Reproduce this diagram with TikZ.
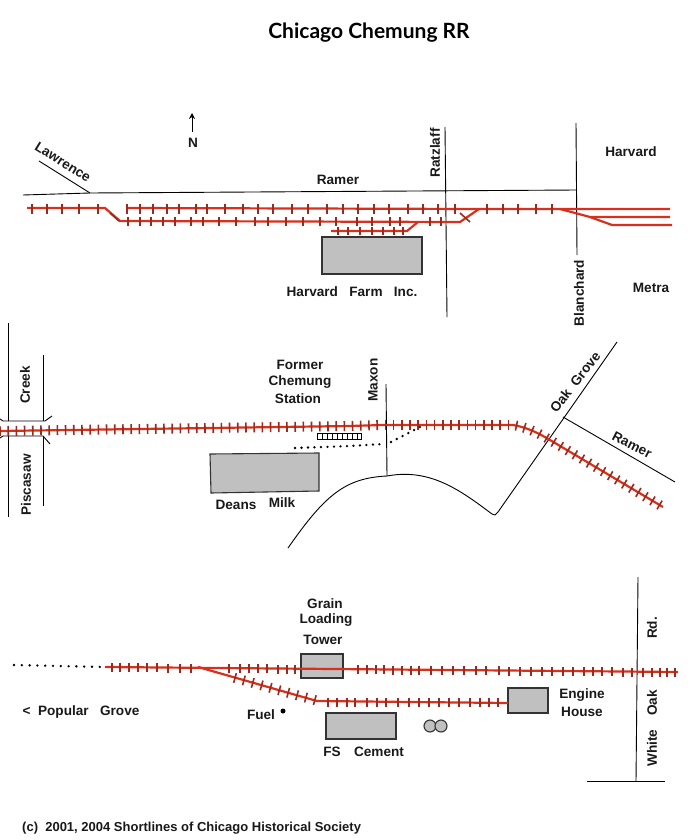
\documentclass[tikz,border=0pt]{standalone}
\usepackage{fontspec}
\setmainfont{Liberation Sans}
\newfontfamily\titlefont{Lato}
\usetikzlibrary{decorations.markings,arrows.meta}
\definecolor{trackred}{HTML}{D8301C}
\definecolor{tiedark}{HTML}{9A2A1C}
\definecolor{shedgray}{HTML}{C0C0C0}
\tikzset{
  road/.style={draw=black,line width=0.9pt},
  track/.style={draw=trackred,line width=2.2pt},
  tie/.style={draw=tiedark,line width=1.6pt},
  shed/.style={draw=black!80,fill=shedgray,line width=1.1pt},
  dotline/.style={draw=black,line width=2.6pt,line cap=round,dash pattern=on 0pt off #1},
  dotline/.default=6.5pt,
  lbl/.style={font=\bfseries\fontsize{13.6}{16}\selectfont,inner sep=0pt,text=black!90},
  ties/.style={postaction={decorate,decoration={markings,
    mark=between positions 0 and 1 step #1 with {\draw[tie] (0,-5pt) -- (0,5pt);}}}}
}
\begin{document}
\begin{tikzpicture}[x=1pt,y=-1pt]
  \useasboundingbox (0,0) rectangle (700,840);

  \node[inner sep=0pt,font=\titlefont\bfseries\fontsize{21}{24}\selectfont] (title) at (369,33) {Chicago Chemung RR};
  \node[lbl,anchor=west,font=\bfseries\fontsize{13}{15}\selectfont] (credit) at (22,828) {(c)\ \ 2001, 2004 Shortlines of Chicago Historical Society};

  % top section
  \node[lbl] (north) at (193,143) {N};
  \coordinate (ntail) at (192,132);
  \coordinate (nhead) at (192,113);
  \draw[-{Stealth[length=6pt,width=6pt]},line width=1pt] (ntail) -- (nhead);

  \coordinate (ramerw) at (23,195);
  \coordinate (ramerm) at (90,193);
  \coordinate (ramere) at (577,190);
  \coordinate (lawr) at (39,161);
  \coordinate (ratzn) at (445,127);
  \coordinate (ratzs) at (447,317);
  \coordinate (blann) at (576,123);
  \coordinate (blans) at (577,255);
  \draw[road] (ramerw) -- (ramerm) -- (ramere);
  \draw[road] (lawr) -- (ramerm);
  \draw[road] (ratzn) -- (ratzs);
  \draw[road] (blann) -- (blans);

  \node[lbl,rotate=-32] (lawrence) at (63,162) {Lawrence};
  \node[lbl] (ramer1) at (338,180) {Ramer};
  \node[lbl,rotate=90] (ratzlaff) at (435,153) {Ratzlaff};
  \node[lbl] (harvard) at (631,152) {Harvard};
  \node[lbl] (metra) at (651,288) {Metra};
  \node[lbl,rotate=90] (blanchard) at (579,293) {Blanchard};
  \node[lbl] (farm) at (352,292) {Harvard\ \ \ Farm\ \ \ Inc.};

  \node[shed,minimum width=100pt,minimum height=37pt,inner sep=0pt] (farmshed) at (372,255.5) {};

  \draw[track] (27,208) -- (105,208) -- (120,221) -- (460,222) -- (479,209) -- (670,209);
  \draw[track] (127,208) -- (479,209);
  \draw[track] (560,209) -- (590,217) -- (670,217);
  \draw[track] (590,217) -- (612,225) -- (672,225);
  \draw[track] (331,231) -- (407,231) -- (418,222);
  \foreach \x in {32,47,62,79,98,127,140,153,167,179,196,207,225,243,258,273,292,308,327,343,358,374,389,408,423,438,455,487,503,518,536,552}
    \draw[tie] (\x,203.5) -- (\x,213.5);
  \foreach \x in {128,140,151,163,175,191,203,219,236,255,268,286,303,320,336,357,372,390,400,430,441}
    \draw[tie] (\x,217) -- (\x,226);
  \foreach \x in {338,348,360,372,383,394,403}
    \draw[tie] (\x,227) -- (\x,235);
  \draw[tie] (110,213) -- (119,221);
  \draw[tie] (460,213) -- (470,222);

  % middle section
  \coordinate (creekwn) at (8,323);
  \coordinate (creekws) at (8,517);
  \coordinate (creeken) at (43,355);
  \coordinate (creekes) at (43,506);
  \draw[road] (creekwn) -- (8,421);
  \draw[road] (creeken) -- (43,421);
  \draw[road] (0,419) -- (3,421) -- (45,421) -- (52,416);
  \draw[road] (0,438) -- (3,436) -- (43,436) -- (50,444);
  \draw[road] (8,436) -- (creekws);
  \draw[road] (43,436) -- (creekes);
  \node[lbl,rotate=90] (creek) at (25,385) {Creek};
  \node[lbl,rotate=90] (piscasaw) at (26,485) {Piscasaw};

  \node[lbl] (former) at (300,365) {Former};
  \node[lbl] (chemung) at (300,382) {Chemung};
  \node[lbl] (station) at (298,399) {Station};
  \node[lbl,rotate=90] (maxon) at (373,380) {Maxon};
  \node[lbl,rotate=52] (oakgrove) at (575,382) {Oak\ \ Grove};
  \node[lbl,rotate=-27] (ramer2) at (632,445) {Ramer};
  \node[lbl] (deans) at (236,505) {Deans};
  \node[lbl] (milk) at (282,503) {Milk};

  \coordinate (maxn) at (386,384);
  \coordinate (maxs) at (387,476);
  \coordinate (oakn) at (617,342);
  \coordinate (ramern) at (563,417);
  \coordinate (rames) at (675,482);
  \draw[road] (maxn) -- (maxs);
  \draw[road] (288,548) .. controls (325,495) and (345,478) .. (maxs)
    .. controls (430,468) and (460,490) .. (492,514) -- (495,515) -- (498,512) -- (oakn);
  \draw[road] (ramern) -- (rames);

  \filldraw[shed] (210,454) -- (319,453) -- (319,491) -- (211,493) -- cycle;

  \draw[draw=black,fill=white,line width=0.8pt] (317,433) rectangle (361,439);
  \foreach \x in {322,327,332,337,342,347,352,357}
    \draw[line width=0.8pt] (\x,433) -- (\x,439);
  \draw[dotline] (295,448) -- (350,446) -- (383,444);
  \draw[dotline] (391,442) -- (420,427);

  \draw[track,ties=8.2pt] (0,431) -- (350,426) -- (383,425) -- (513,425)
    .. controls (525,427) and (537,432) .. (550,440) -- (663,507);

  % bottom section
  \node[lbl] (grain) at (325,604) {Grain};
  \node[lbl] (loading) at (326,620) {Loading};
  \node[lbl] (towerlbl) at (323,640) {Tower};
  \node[lbl] (fuel) at (261,715) {Fuel};
  \node[circle,fill=black,inner sep=0pt,minimum size=5pt] (fueldot) at (283,711) {};
  \node[lbl] (popular) at (81,712) {<\ \ Popular\ \ \ Grove};
  \node[lbl] (fs) at (332,752) {FS};
  \node[lbl] (cement) at (379,752) {Cement};
  \node[lbl] (engine) at (582,695) {Engine};
  \node[lbl] (house) at (582,712) {House};
  \node[lbl,rotate=90] (rd) at (652,628) {Rd.};
  \node[lbl,rotate=90] (oak) at (652,703) {Oak};
  \node[lbl,rotate=90] (white) at (652,748) {White};

  \coordinate (whiten) at (638,577);
  \coordinate (whites) at (636,781);
  \coordinate (crossw) at (587,781);
  \coordinate (crosse) at (665,781);
  \draw[road] (whiten) -- (whites);
  \draw[road] (crossw) -- (crosse);

  \node[shed,minimum width=42pt,minimum height=24pt,inner sep=0pt] (tower) at (322,666) {};
  \node[shed,minimum width=70pt,minimum height=26pt,inner sep=0pt] (fscement) at (361,726) {};
  \node[shed,minimum width=40pt,minimum height=25pt,inner sep=0pt] (enginehouse) at (528,700.5) {};
  \node[circle,draw=black!80,fill=shedgray,line width=1.1pt,minimum size=12pt,inner sep=0pt] (tank1) at (430,726) {};
  \node[circle,draw=black!80,fill=shedgray,line width=1.1pt,minimum size=12pt,inner sep=0pt] (tank2) at (441,726) {};

  \draw[dotline=7.8pt] (14,665) -- (103,667);
  \draw[track] (105,667) -- (678,672);
  \draw[track] (198,667) -- (317,701) -- (508,703);
  \foreach \x in {112,120,129,138,147,157,168,180,191,229,240,249,258,267,278,287,295,358,367,376,384,393,402,411,419,431,442,453,464,476,486,499,509,520,531,542,552,563,573,584,593,602,612,623,632,643,652,660,667,675}
    \draw[tie] ({\x},{663+0.0087*(\x-105)}) -- ++(0,9);
  \path[ties=9.2pt] (235,678) -- (318,701);
  \foreach \x in {328,337,347,355,367,377,386,398,409,419,429,439,449,459,470,480,489,498}
    \draw[tie] (\x,698) -- (\x,707);
\end{tikzpicture}
\end{document}
